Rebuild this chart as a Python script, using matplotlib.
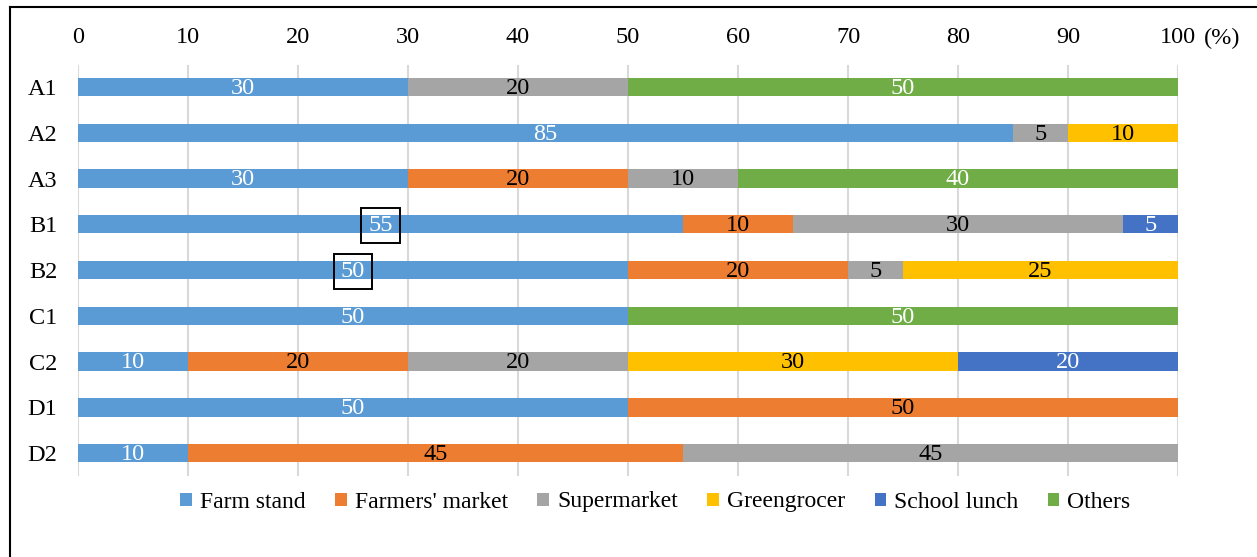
import matplotlib
matplotlib.use("Agg")
import matplotlib.pyplot as plt
from matplotlib.lines import Line2D
from matplotlib.patches import Patch
import numpy as np

plt.rcParams['font.family'] = ['Liberation Serif', 'DejaVu Serif']

categories = ["A1", "A2", "A3", "B1", "B2", "C1", "C2", "D1", "D2"]
series_names = ["Farm stand", "Farmers' market", "Supermarket", "Greengrocer", "School lunch", "Others"]
farm_stand     = [30, 85, 30, 55, 50, 50, 10, 50, 10]
farmers_market = [0, 0, 20, 10, 20, 0, 20, 50, 45]
supermarket    = [20, 5, 10, 30, 5, 0, 20, 0, 45]
greengrocer    = [0, 10, 0, 0, 25, 0, 30, 0, 0]
school_lunch   = [0, 0, 0, 5, 0, 0, 20, 0, 0]
others         = [50, 0, 40, 0, 0, 50, 0, 0, 0]
x_ticks = [0, 10, 20, 30, 40, 50, 60, 70, 80, 90, 100]
boxed = [("B1", 0), ("B2", 0)]  # (category, series index) labels drawn with a box

series = [farm_stand, farmers_market, supermarket, greengrocer, school_lunch, others]
colors = ["#5B9BD5", "#ED7D31", "#A5A5A5", "#FFC000", "#4472C4", "#70AD47"]
label_colors = ["white", "black", "black", "black", "white", "white"]

FS = 17.5

fig = plt.figure(figsize=(12.57, 5.57), dpi=100)
ax = fig.add_axes([78/1257, 1-476/557, 1100/1257, (476-65)/557])

y = np.arange(len(categories))
left = np.zeros(len(categories))
for si, (vals, col) in enumerate(zip(series, colors)):
    vals = np.array(vals, dtype=float)
    ax.barh(y, vals, left=left, height=0.4, color=col, zorder=3)
    for i, v in enumerate(vals):
        if v > 0:
            kw = {}
            if (categories[i], si) in boxed:
                kw['bbox'] = dict(boxstyle='square,pad=0.3', facecolor='none', edgecolor='black', linewidth=1.4)
            ax.text(left[i] + v/2, y[i] + 0.03, f"{int(v)}", ha='center', va='center',
                    color=label_colors[si], fontsize=FS, zorder=5, **kw)
    left += vals

ax.set_xlim(0, 100)
ax.set_ylim(len(categories) - 0.5, -0.48)
ax.set_yticks(y)
ax.set_yticklabels(categories, fontsize=FS)
ax.set_xticks(x_ticks)
ax.set_xticklabels([str(t) for t in x_ticks], fontsize=FS)
ax.xaxis.tick_top()
ax.tick_params(axis='both', length=0)
ax.tick_params(axis='x', pad=12)
ax.tick_params(axis='y', pad=15)
for s in ax.spines.values():
    s.set_visible(False)
ax.grid(axis='x', color='#D9D9D9', linewidth=1.5, zorder=0)
ax.set_axisbelow(True)

fig.text(1222/1257, 1-38/557, "(%)", ha='center', va='center', fontsize=FS)

handles = [Patch(facecolor=c, edgecolor='none') for c in colors]
fig.legend(handles, series_names, loc='center', bbox_to_anchor=(0.5215, 1-502/557), ncol=6,
           frameon=False, fontsize=17, handlelength=0.48, handleheight=0.48,
           handletextpad=0.35, columnspacing=1.25)

fig.add_artist(Line2D([10/1257, 10/1257], [0, 1-7/557], transform=fig.transFigure, color='black', linewidth=1.5))
fig.add_artist(Line2D([10/1257, 1], [1-7/557, 1-7/557], transform=fig.transFigure, color='black', linewidth=1.5))

fig.savefig("out.png", dpi=100, facecolor='white')
